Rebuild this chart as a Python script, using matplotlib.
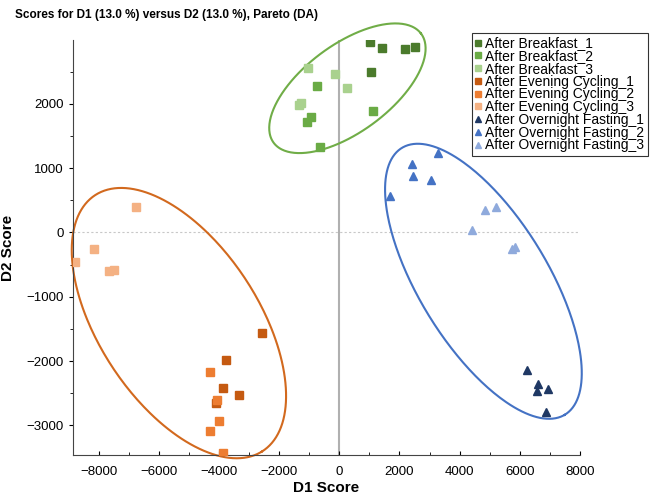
import numpy as np
import matplotlib.pyplot as plt
from matplotlib.ticker import MultipleLocator

plt.rcParams['font.family'] = ['Liberation Sans', 'DejaVu Sans']

# score values (D1, D2)
breakfast_1_x = [1020, 1410, 2200, 2500, 1040]
breakfast_1_y = [2960, 2870, 2850, 2880, 2500]
breakfast_2_x = [-730, -950, -1080, 1130, -640]
breakfast_2_y = [2280, 1800, 1720, 1890, 1320]
breakfast_3_x = [-1030, -150, 250, -1270, -1330]
breakfast_3_y = [2550, 2460, 2250, 2010, 1980]

cycling_1_x = [-2560, -3780, -3880, -3320, -4100]
cycling_1_y = [-1570, -1990, -2420, -2520, -2650]
cycling_2_x = [-4310, -4070, -4000, -4300, -3870]
cycling_2_y = [-2170, -2600, -2930, -3080, -3430]
cycling_3_x = [-6760, -8160, -8800, -7660, -7490]
cycling_3_y = [400, -260, -460, -600, -580]

fasting_1_x = [6240, 6610, 6560, 6940, 6870]
fasting_1_y = [-2140, -2360, -2470, -2440, -2790]
fasting_2_x = [3270, 2430, 2440, 3050, 1700]
fasting_2_y = [1240, 1070, 880, 810, 570]
fasting_3_x = [5220, 4850, 4420, 5850, 5730]
fasting_3_y = [400, 350, 40, -220, -260]

series = [
    ("After Breakfast_1", breakfast_1_x, breakfast_1_y, "#4b7b2c", "s"),
    ("After Breakfast_2", breakfast_2_x, breakfast_2_y, "#6aab45", "s"),
    ("After Breakfast_3", breakfast_3_x, breakfast_3_y, "#a9d18e", "s"),
    ("After Evening Cycling_1", cycling_1_x, cycling_1_y, "#c55a11", "s"),
    ("After Evening Cycling_2", cycling_2_x, cycling_2_y, "#ed7d31", "s"),
    ("After Evening Cycling_3", cycling_3_x, cycling_3_y, "#f4b183", "s"),
    ("After Overnight Fasting_1", fasting_1_x, fasting_1_y, "#1f3864", "^"),
    ("After Overnight Fasting_2", fasting_2_x, fasting_2_y, "#4472c4", "^"),
    ("After Overnight Fasting_3", fasting_3_x, fasting_3_y, "#8faadc", "^"),
]

# group ellipses: centre and two semi-axis vectors, in data units
ell_cx = [270, -5330, 4790]
ell_cy = [2240, -1410, -760]
ell_u = [(2440, 854), (2756, -1997), (2695, -2077)]
ell_v = [(-894, 535), (2256, 652), (1850, 505)]
ell_colors = ["#70ad47", "#d2691e", "#4472c4"]

fig = plt.figure(figsize=(6.55, 4.95), dpi=100)
ax = fig.add_axes([73 / 655, 40 / 495, 507 / 655, 415 / 495])

ax.axvline(0, color="#b0b0b0", lw=1.5, zorder=1)
ax.axhline(0, color="#c8c8c8", lw=0.8, ls=(0, (2, 2)), zorder=1)

for name, xs, ys, col, mk in series:
    ax.plot(xs, ys, ls="none", marker=mk, ms=5.5,
            color=col, mec=col, label=name, zorder=3)

t = np.linspace(0, 2 * np.pi, 300)
for cx, cy, u, v, col in zip(ell_cx, ell_cy, ell_u, ell_v, ell_colors):
    ex = cx + u[0] * np.cos(t) + v[0] * np.sin(t)
    ey = cy + u[1] * np.cos(t) + v[1] * np.sin(t)
    ax.plot(ex, ey, color=col, lw=1.5, zorder=2, clip_on=False)

ax.set_xlim(-8850, 8000)
ax.set_ylim(-3460, 2990)
ax.xaxis.set_major_locator(MultipleLocator(2000))
ax.xaxis.set_minor_locator(MultipleLocator(1000))
ax.yaxis.set_major_locator(MultipleLocator(1000))
ax.yaxis.set_minor_locator(MultipleLocator(500))
ax.tick_params(axis="x", which="both", direction="in", labelsize=9.5, pad=8)
ax.tick_params(axis="y", which="both", direction="out", labelsize=9.5)
ax.tick_params(which="minor", length=2)
ax.tick_params(which="major", length=3)
for s in ["top", "right"]:
    ax.spines[s].set_visible(False)
for s in ["left", "bottom"]:
    ax.spines[s].set_color("#444444")

ax.set_xlabel("D1 Score", fontsize=11, fontweight="bold", labelpad=2)
ax.set_ylabel("D2 Score", fontsize=11, fontweight="bold", labelpad=8)

fig.text(15 / 655, 1 - 15 / 495, "Scores for D1 (13.0 %) versus D2 (13.0 %), Pareto (DA)",
         fontsize=8.5, fontweight="bold", va="center", ha="left")

leg = ax.legend(loc="upper left", bbox_to_anchor=(472 / 655, 1 - 33 / 495),
                bbox_transform=fig.transFigure, fontsize=10, frameon=True,
                fancybox=False, edgecolor="black", handlelength=0.4,
                handletextpad=0.3, labelspacing=-0.09, borderpad=0.25,
                borderaxespad=0, markerscale=0.7)
leg.get_frame().set_linewidth(0.8)

fig.savefig("out.png", dpi=100)
